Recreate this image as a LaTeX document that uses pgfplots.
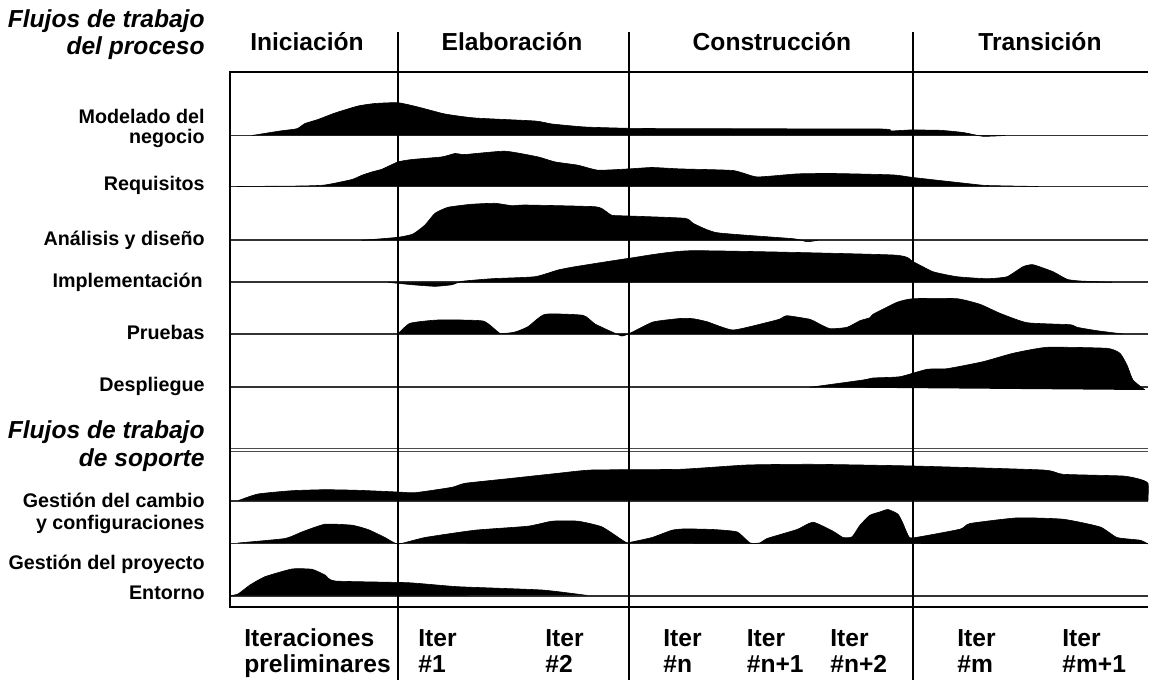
\documentclass[border=0pt]{standalone}
\usepackage{fontspec}
\setmainfont{Liberation Sans}
\usepackage{pgfplots}
\usepackage{pgfplotstable}
\pgfplotsset{compat=1.18}

\tikzset{
  lbl/.style={font=\fontsize{9.85}{12}\selectfont\bfseries, anchor=base east, inner sep=0pt},
  big/.style={font=\fontsize{12.3}{14}\selectfont\bfseries, inner sep=0pt},
  ital/.style={font=\fontsize{12.3}{14}\selectfont\bfseries\itshape, anchor=base east, inner sep=0pt},
}

% profiles: x position, height above the row's baseline (pixel units)
\pgfplotstableread{
x h
252 0
280 4.5
297 6.8
305 12
318 16
335 22.5
358 29.5
375 32
398 32.8
418 28.5
445 21.5
475 17.5
535 14.5
552 11.5
585 8.5
629 7.2
685 6.8
880 6.5
890 4.5
910 5.5
940 5.2
963 3
983 -0.8
1005 0
}\modelado
\pgfplotstableread{
x h
237 0
300 0.5
325 1.5
352 7
362 11.3
372 14.6
382 17.3
398 24.6
412 27
442 29.6
455 33
465 32
505 35.3
538 29.6
555 24.6
578 21.3
598 16.3
629 17.6
652 19
680 17.6
733 16
757 9.6
797 12.6
833 13
893 11.6
913 9
973 2.3
987 1
1038 0
}\requisitos
\pgfplotstableread{
x h
362 0
398 3
413 6.3
425 15.3
435 27
448 33
471 36
495 37
512 34.6
525 35.3
595 33.6
605 29.6
612 25
629 24.3
685 22
693 17
717 7.6
793 1.6
807 -1.4
818 0
}\analisis
\pgfplotstableread{
x h
388 0
412 -2.4
435 -4
452 -2.4
462 1
492 3.6
535 5.6
558 12.3
575 15.6
629 24
692 31.6
893 27.3
913 20.6
933 10.6
957 5.6
987 3.6
1007 5.6
1023 15.6
1033 17.6
1053 10.6
1067 3
1080 1.3
1112 0
}\implementacion
\pgfplotstableread{
x h
398 0
410 10.7
438 14
483 13
500 0.7
515 2
528 7.3
545 19.7
583 18.7
595 10
615 0.7
622 -2
630 0.7
653 12
680 15.5
693 15.3
707 12.3
733 4
770 12.3
780 15
787 18.3
810 14.7
817 11.3
830 5.3
847 6.7
860 13.3
870 16.3
873 19.7
897 31.7
913 35.3
957 35.3
980 29.7
1000 20.7
1027 11.3
1070 9.3
1077 6.7
1097 3.3
1123 0
}\pruebas
\pgfplotstableread{
x h
810 0
863 7.3
873 9.3
900 10.6
927 18
947 18.6
983 25.6
1013 34
1047 40
1107 39
1120 34
1127 22.3
1133 7.3
1145 -2.7
}\despliegue
\pgfplotstableread{
x h
238 0
258 6.7
292 10
325 11
358 10.4
398 8.7
415 8
452 13.4
465 17.4
508 22
558 27.4
592 30.7
680 31.4
747 35.7
813 36.4
913 34.7
1043 30.7
1063 26.4
1123 24.7
1140 21.4
1148 17.4
1148 0
}\cambio
\pgfplotstableread{
x h
238 0.5
285 5
302 11.6
325 19.3
352 18.3
368 14
385 6
398 -0.5
425 6
475 13.3
528 17.3
552 22.3
578 22.3
602 16.6
625 1.6
629 1
652 6
672 13.3
685 14.6
713 14
737 11.6
750 0.6
760 0.6
767 5
797 14
813 21.3
833 12.3
843 6
852 6.6
860 18.3
870 28.3
880 31.6
888 34
898 29.3
903 20
908 8.3
913 5.6
960 14.3
970 20
1017 25.6
1063 24.3
1100 16.6
1117 6
1140 3.3
1148 -0.5
}\proyecto
\pgfplotstableread{
x h
230 0
238 1.7
250 10.7
265 19
292 26.7
312 26.4
325 20.7
335 14.7
408 13
458 9
542 5.7
587 0.3
}\entorno

\begin{document}
\begin{tikzpicture}
\begin{axis}[
  hide axis,
  scale only axis,
  width=459pt, height=267.5pt,
  xmin=230, xmax=1148,
  ymin=72, ymax=607,
  y dir=reverse,
  clip=false,
  hump/.style={fill=black, draw=black, line width=0.3pt, line join=round,
               no markers, smooth, tension=0.3},
]
% keep the page at the reference's proportions
\path (axis cs:0,0) rectangle (axis cs:1153,684);

% baselines of the rows
\pgfplotsinvokeforeach{135.5,186.5,240.3,282.3,334,387.3,500.7,543.5,595.7}{
  \draw[line width=0.9pt, black!80] (axis cs:230,#1) -- (axis cs:1148,#1);
}
\draw[line width=0.6pt, black!70] (axis cs:230,448.3) -- (axis cs:1148,448.3);
\draw[line width=0.6pt, black!70] (axis cs:230,451.7) -- (axis cs:1148,451.7);

\addplot[hump] table[x=x, y expr=135.5-\thisrow{h}] {\modelado};
\addplot[hump] table[x=x, y expr=186.5-\thisrow{h}] {\requisitos};
\addplot[hump] table[x=x, y expr=240.3-\thisrow{h}] {\analisis};
\addplot[hump] table[x=x, y expr=282.3-\thisrow{h}] {\implementacion};
\addplot[hump] table[x=x, y expr=334-\thisrow{h}] {\pruebas};
\addplot[hump] table[x=x, y expr=387.3-\thisrow{h}] {\despliegue};
\addplot[hump] table[x=x, y expr=500.7-\thisrow{h}] {\cambio};
\addplot[hump] table[x=x, y expr=543.5-\thisrow{h}] {\proyecto};
\addplot[hump] table[x=x, y expr=595.7-\thisrow{h}] {\entorno};

% frame and phase separators
\draw[line width=0.8pt] (axis cs:1148,72) -- (axis cs:230,72) -- (axis cs:230,607) -- (axis cs:1148,607);
\pgfplotsinvokeforeach{398,629,913}{
  \draw[line width=0.8pt] (axis cs:#1,32) -- (axis cs:#1,680);
}

% phase names
\node[big, anchor=base] at (axis cs:307,51) {Iniciación};
\node[big, anchor=base] at (axis cs:512,51) {Elaboración};
\node[big, anchor=base] at (axis cs:772,51) {Construcción};
\node[big, anchor=base] at (axis cs:1040,51) {Transición};

% group titles
\node[ital] at (axis cs:205,28) {Flujos de trabajo};
\node[ital] at (axis cs:205,55) {del proceso};
\node[ital] at (axis cs:205,439) {Flujos de trabajo};
\node[ital] at (axis cs:205,466.7) {de soporte};

% row labels
\node[lbl] at (axis cs:205,124) {Modelado del};
\node[lbl] at (axis cs:205,144) {negocio};
\node[lbl] at (axis cs:205,191) {Requisitos};
\node[lbl] at (axis cs:205,245.7) {Análisis y diseño};
\node[lbl] at (axis cs:203,287.3) {Implementación};
\node[lbl] at (axis cs:205,339.3) {Pruebas};
\node[lbl] at (axis cs:205,391.7) {Despliegue};
\node[lbl] at (axis cs:205,507.3) {Gestión del cambio};
\node[lbl] at (axis cs:205,530) {y configuraciones};
\node[lbl] at (axis cs:205,569.3) {Gestión del proyecto};
\node[lbl] at (axis cs:205,600) {Entorno};

% iterations
\node[big, anchor=base west] at (axis cs:244,646.7) {Iteraciones};
\node[big, anchor=base west] at (axis cs:244,672.7) {preliminares};
\node[big, anchor=base west] at (axis cs:418,646.7) {Iter};
\node[big, anchor=base west] at (axis cs:418,672.7) {\#1};
\node[big, anchor=base west] at (axis cs:545,646.7) {Iter};
\node[big, anchor=base west] at (axis cs:545,672.7) {\#2};
\node[big, anchor=base west] at (axis cs:663,646.7) {Iter};
\node[big, anchor=base west] at (axis cs:663,672.7) {\#n};
\node[big, anchor=base west] at (axis cs:746.5,646.7) {Iter};
\node[big, anchor=base west] at (axis cs:746.5,672.7) {\#n+1};
\node[big, anchor=base west] at (axis cs:830,646.7) {Iter};
\node[big, anchor=base west] at (axis cs:830,672.7) {\#n+2};
\node[big, anchor=base west] at (axis cs:957,646.7) {Iter};
\node[big, anchor=base west] at (axis cs:957,672.7) {\#m};
\node[big, anchor=base west] at (axis cs:1062,646.7) {Iter};
\node[big, anchor=base west] at (axis cs:1062,672.7) {\#m+1};
\end{axis}
\end{tikzpicture}
\end{document}
